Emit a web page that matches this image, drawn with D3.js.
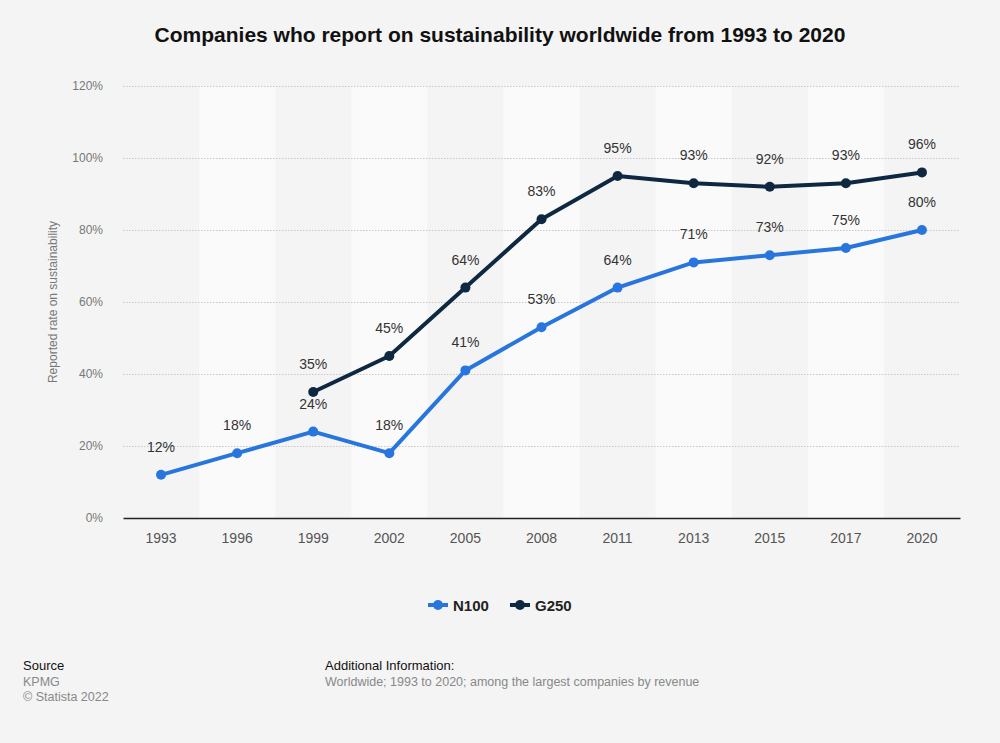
<!DOCTYPE html>
<html>
<head>
<meta charset="utf-8">
<script src="https://cdn.jsdelivr.net/npm/d3@7"></script>
<style>
  body { margin: 0; background: #f4f4f4; }
  svg { display: block; font-family: "Liberation Sans", Arial, sans-serif; }
</style>
</head>
<body>
<script>
// chart data
var years = ["1993", "1996", "1999", "2002", "2005", "2008", "2011", "2013", "2015", "2017", "2020"];
var n100 = [12, 18, 24, 18, 41, 53, 64, 71, 73, 75, 80];
var g250 = [null, null, 35, 45, 64, 83, 95, 93, 92, 93, 96];
var yTicks = [0, 20, 40, 60, 80, 100, 120];

var W = 1000, H = 743;
var m = {left: 123, right: 40, top: 86, bottom: 225};

var svg = d3.select("body").append("svg")
  .attr("width", W).attr("height", H);

svg.append("rect").attr("width", W).attr("height", H).attr("fill", "#f4f4f4");

var x = d3.scaleBand().domain(years).range([m.left, W - m.right]);
var y = d3.scaleLinear().domain([0, 120]).range([H - m.bottom, m.top]);

// alternating column shading
svg.selectAll("rect.band")
  .data(years.filter(function(d, i){ return i % 2 == 1; }))
  .enter().append("rect")
  .attr("class", "band")
  .attr("x", function(d){ return x(d); })
  .attr("y", y(120))
  .attr("width", x.bandwidth())
  .attr("height", y(0) - y(120))
  .attr("fill", "#fafafa");

// title
svg.append("text")
  .attr("x", 500).attr("y", 42)
  .attr("text-anchor", "middle")
  .attr("font-size", 21).attr("font-weight", "bold").attr("fill", "#111")
  .text("Companies who report on sustainability worldwide from 1993 to 2020");

// y axis + grid
var yAxis = svg.append("g")
  .attr("transform", "translate(" + m.left + ",0)")
  .call(d3.axisLeft(y).tickValues(yTicks).tickSize(-(W - m.left - m.right))
        .tickFormat(function(d){ return d + "%"; }).tickPadding(20));
yAxis.select(".domain").remove();
yAxis.selectAll(".tick line")
  .attr("stroke", "#c8c8c8").attr("stroke-dasharray", "1.5,1.5")
  .attr("display", function(d){ return d == 0 ? "none" : null; });
yAxis.selectAll(".tick text").attr("fill", "#777").attr("font-size", 12).attr("font-family", "Liberation Sans, Arial, sans-serif");

svg.append("text")
  .attr("transform", "translate(57," + ((y(0) + y(120)) / 2) + ") rotate(-90)")
  .attr("text-anchor", "middle")
  .attr("font-size", 12).attr("fill", "#777")
  .text("Reported rate on sustainability");

// x axis
var xAxis = svg.append("g")
  .attr("transform", "translate(0," + y(0) + ")")
  .call(d3.axisBottom(x).tickSize(0).tickPadding(15));
xAxis.select(".domain").attr("stroke", "#222").attr("stroke-width", 1.5);
xAxis.selectAll(".tick text").attr("fill", "#555").attr("font-size", 14).attr("font-family", "Liberation Sans, Arial, sans-serif");

var series = [
  {name: "N100", values: n100, color: "#2876dd"},
  {name: "G250", values: g250, color: "#0f2842"}
];

var line = d3.line()
  .defined(function(d){ return d.v != null; })
  .x(function(d){ return x(d.year) + x.bandwidth() / 2; })
  .y(function(d){ return y(d.v); });

series.forEach(function(s){
  var pts = years.map(function(yr, i){ return {year: yr, v: s.values[i]}; });
  svg.append("path")
    .datum(pts)
    .attr("d", line)
    .attr("fill", "none")
    .attr("stroke", s.color)
    .attr("stroke-width", 4)
    .attr("stroke-linejoin", "round");
  var valid = pts.filter(function(d){ return d.v != null; });
  svg.selectAll(null).data(valid).enter().append("circle")
    .attr("cx", function(d){ return x(d.year) + x.bandwidth() / 2; })
    .attr("cy", function(d){ return y(d.v); })
    .attr("r", 5)
    .attr("fill", s.color);
  svg.selectAll(null).data(valid).enter().append("text")
    .attr("x", function(d){ return x(d.year) + x.bandwidth() / 2; })
    .attr("y", function(d){ return y(d.v) - 23; })
    .attr("text-anchor", "middle")
    .attr("font-size", 14).attr("fill", "#333")
    .text(function(d){ return d.v + "%"; });
});

// legend
var legend = svg.append("g").attr("transform", "translate(0,605)");
var lx = [428, 510];
series.forEach(function(s, i){
  var g = legend.append("g").attr("transform", "translate(" + lx[i] + ",0)");
  g.append("line").attr("x1", 0).attr("x2", 20).attr("y1", 0).attr("y2", 0)
    .attr("stroke", s.color).attr("stroke-width", 4);
  g.append("circle").attr("cx", 10).attr("cy", 0).attr("r", 5).attr("fill", s.color);
  g.append("text").attr("x", 25).attr("y", 5.5)
    .attr("font-size", 15).attr("font-weight", "bold").attr("fill", "#222")
    .text(s.name);
});

// footer
var foot = svg.append("g").attr("font-size", 12.5);
foot.append("text").attr("x", 23).attr("y", 670).attr("fill", "#111").attr("font-size", 13).text("Source");
foot.append("text").attr("x", 23).attr("y", 686).attr("fill", "#888").text("KPMG");
foot.append("text").attr("x", 23).attr("y", 701).attr("fill", "#888").text("© Statista 2022");
foot.append("text").attr("x", 325).attr("y", 670).attr("fill", "#111").attr("font-size", 13).text("Additional Information:");
foot.append("text").attr("x", 325).attr("y", 686).attr("fill", "#888").text("Worldwide; 1993 to 2020; among the largest companies by revenue");
</script>
</body>
</html>
